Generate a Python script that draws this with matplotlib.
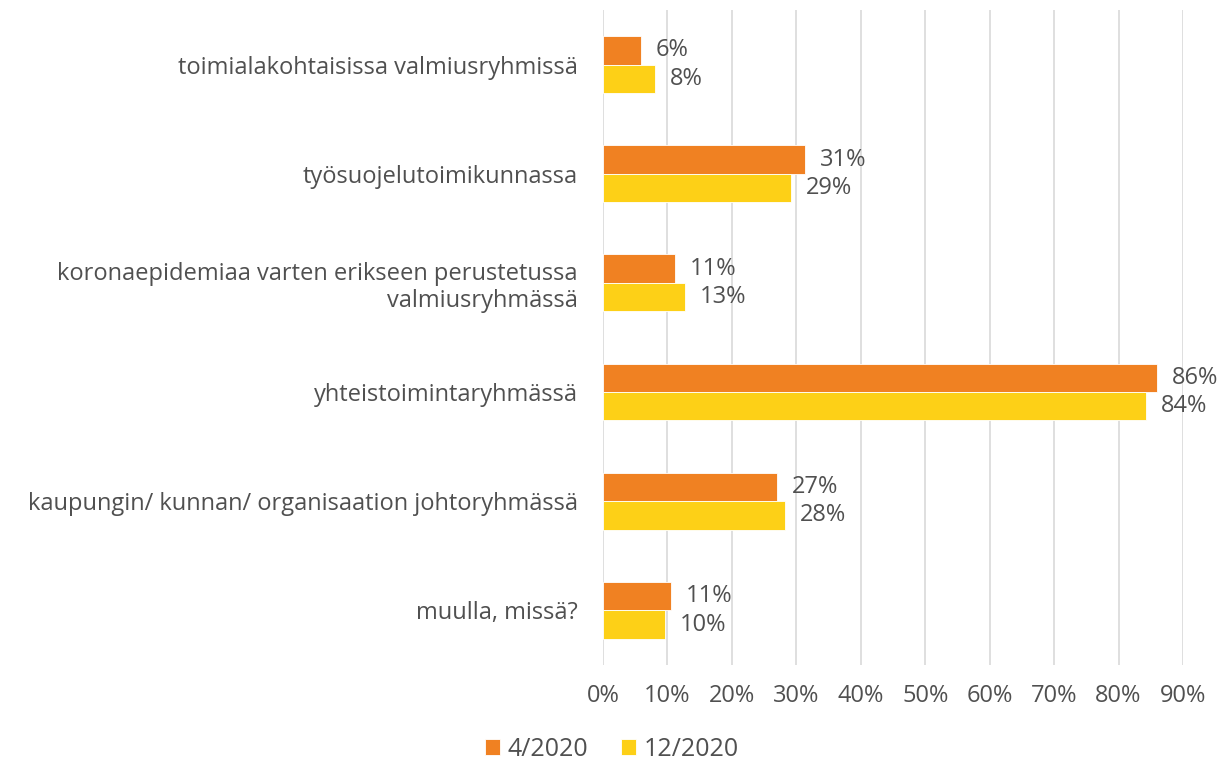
import matplotlib.pyplot as plt
import numpy as np

# ── Data ──────────────────────────────────────────────────────────────────────
kategoriat = [
    "toimialakohtaisissa valmiusryhmissä",
    "työsuojelutoimikunnassa",
    "koronaepidemiaa varten erikseen perustetussa\nvalmiusryhmässä",
    "yhteistoimintaryhmässä",
    "kaupungin/ kunnan/ organisaation johtoryhmässä",
    "muulla, missä?",
]
arvot_4_2020 = [5.9, 31.4, 11.2, 85.9, 27.0, 10.6]
arvot_12_2020 = [8.1, 29.2, 12.7, 84.2, 28.3, 9.6]
sarjat = ["4/2020", "12/2020"]
x_ticks = [0, 10, 20, 30, 40, 50, 60, 70, 80, 90]

ORANSSI = "#F08122"
KELTAINEN = "#FDD017"
HARMAA = "#505050"
FS = 17

plt.rcParams['font.family'] = ['Open Sans', 'DejaVu Sans']

fig = plt.figure(figsize=(12.24, 7.63), dpi=100)
ax = fig.add_axes([0.4926, 0.1284, 0.9665 - 0.4926, 0.987 - 0.1284])

y = np.arange(len(kategoriat))
h = 0.26
b1 = ax.barh(y - h / 2, arvot_4_2020, height=h, color=ORANSSI,
             edgecolor="white", linewidth=0.6, label=sarjat[0], zorder=3)
b2 = ax.barh(y + h / 2, arvot_12_2020, height=h, color=KELTAINEN,
             edgecolor="white", linewidth=0.6, label=sarjat[1], zorder=3)

for bars, vals in ((b1, arvot_4_2020), (b2, arvot_12_2020)):
    for bar, v in zip(bars, vals):
        ax.text(bar.get_width() + 2.3, bar.get_y() + bar.get_height() / 2,
                f"{v:.0f}%", va="center", ha="left", fontsize=FS, color=HARMAA)

ax.set_ylim(len(kategoriat) - 0.5, -0.5)
ax.set_xlim(0, 90)
ax.set_xticks(x_ticks)
ax.set_xticklabels([f"{t}%" for t in x_ticks], fontsize=FS, color=HARMAA)
ax.set_yticks(y)
ax.set_yticklabels(kategoriat, fontsize=FS, color=HARMAA, multialignment='right')
ax.tick_params(axis='both', length=0)
ax.tick_params(axis='y', pad=18)
ax.tick_params(axis='x', pad=14)
ax.grid(axis='x', color="#d9d9d9", linewidth=1.2, zorder=0)
for s in ax.spines.values():
    s.set_visible(False)

fig.legend(handles=[b1, b2], labels=sarjat, loc="center", bbox_to_anchor=(0.5, 0.018),
           ncol=2, frameon=False, fontsize=FS + 1, labelcolor=HARMAA,
           handlelength=0.6, handleheight=0.6, handletextpad=0.3, columnspacing=1.3)

fig.savefig("out.png", dpi=100)
